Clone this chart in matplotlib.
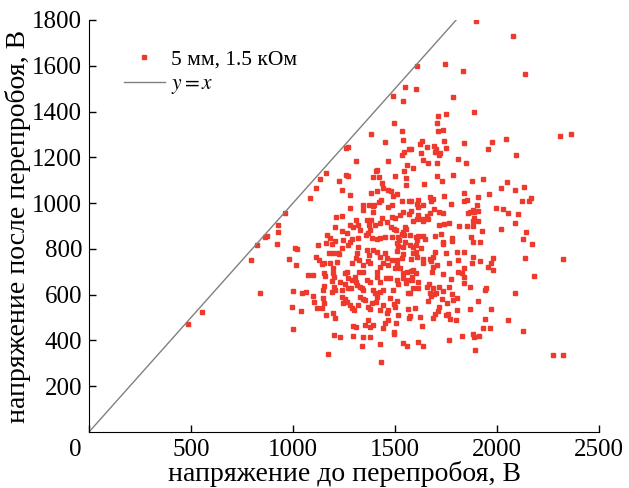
import numpy as np
import matplotlib
matplotlib.use("Agg")
import matplotlib.pyplot as plt
import matplotlib.transforms as mtransforms

# Values (volts)
before_v = [
    926, 926, 921, 872, 862, 823, 794, 838, 554, 485,
    1382, 1450, 1259, 1269, 1308, 1465, 1161, 1132, 1112, 1083,
    1259, 1269, 1225, 1240, 1279, 1279, 1406, 1411, 1392, 1421,
    1436, 1441, 1465, 1382, 1411, 1431, 1421, 1343, 1372, 1397,
    1392, 1465,
    1896, 2078, 1607, 1744, 1833, 2136, 1548, 1602, 1490, 1784,
    1539, 1710, 1749, 1886, 1494, 1705, 1534, 1710, 1735, 1539,
    1740, 1632, 1622, 1656, 1691, 1700, 1749, 1838, 1975, 1955,
    1568, 1578, 1544, 1534, 1627, 1695, 1720, 1715, 1637, 1661,
    1705, 1808, 1847, 1558, 1588, 1544, 1499, 1553, 1705, 1730,
    1784, 1877, 1931, 1553, 1642, 1480, 1490, 1509, 1740, 1838,
    1852, 1838, 1906, 1960, 1534, 1568, 1578, 1612, 1671, 1686,
    1676, 1637, 1607, 1612, 1691, 1774, 1901, 1882, 1994, 1485,
    2308, 2362, 2043, 2092, 2048, 2019, 2087, 2132, 2166, 2122,
    2156, 2029,
    2053, 2102, 2087, 2019, 2141, 2127, 2171, 2136, 2323, 2181,
    2087, 2053, 2127, 2274, 2323,
    1485, 1499, 1524, 1539, 1568, 1578, 1612, 1607, 1588, 1632,
    1637, 1656, 1661, 1671, 1715, 1735, 1857, 1867, 1886, 1906,
    1886, 1906, 1882,
    1480, 1494, 1504, 1548, 1553, 1534, 1539, 1544, 1573, 1485,
    1514, 1519, 1509, 1548, 1602, 1612, 1637, 1646, 1607, 1695,
    1725, 1740, 1764, 1715, 1779, 1779, 1735, 1735, 1813, 1852,
    1882, 1926, 1872, 1882, 1916, 1573, 1588, 1602, 1627, 1539,
    1514, 1509, 1539,
    1588, 1602, 1607, 1578, 1485, 1509, 1534, 1637, 1637, 1695,
    1686, 1671, 1676, 1749, 1764, 1803, 1808, 1838, 1705, 1686,
    1681, 1735, 1509, 1499, 1524, 1539, 1558, 1578, 1588, 1602,
    1475, 1509, 1539, 1563, 1583, 1612, 1583, 1774,
    1828, 1838, 1838, 1838, 1877, 1882, 1916, 1955, 1980, 1970,
    1980, 1808,
    1490, 1514, 1553, 1563, 1573, 1588, 1612, 1656, 1666, 1686,
    1715, 1735, 1671, 1691, 1700, 1676, 1764, 1779, 1803, 1784,
    1754, 1867, 1940, 1945, 1906,
    1475, 1509, 1499, 1494, 1563, 1597, 1661, 1715, 1710, 1730,
    1803, 1759, 1695, 1686, 1867, 1970, 1573, 1568, 1514, 1622,
    1632, 1749, 1769, 1798, 1940, 1931, 1965,
    1504, 1494, 1494, 1828, 1882, 1886, 1911, 1764, 1539, 1558,
    1612, 1637, 1891,
    960, 1210, 1240, 1279, 1294, 1308, 1318, 1328, 1343, 1362,
    1392, 1372, 1382, 1401, 1426, 1436, 1460,
    1205, 1240, 1264, 1166, 1181, 1205, 1161, 1191,
    1245, 1279, 1289, 1269, 1318, 1357, 1367, 1377, 1387, 1411,
    1426, 1450,
    1122, 1009, 1019, 980, 1014,
    1112, 1127, 1142, 1151, 1176, 1196, 1220, 1240, 1225, 1215,
    1181, 1196,
    1318, 1313, 1308, 1323, 1289, 1343, 1362, 1372, 1367, 1377,
    1392, 1411, 1426, 1450, 1460, 1441, 1426, 1465, 1411,
    1073, 1098, 1151, 1156, 1196, 1200, 1191, 1230, 1254, 1264,
    1269, 1289, 1303, 1308, 1323, 1343, 1362, 1377, 1411, 1426,
    1455,
    1151, 1147, 1200, 1191, 1205, 1240, 1254, 1269, 1284, 1313,
    1328, 1338, 1343, 1392, 1401, 1426, 1441,
    1000, 1044, 1063, 995, 1039,
    1098, 1103, 1147, 1151, 1117, 1142, 1196, 1205, 1161,
    1240, 1254, 1264, 1245, 1279, 1289, 1298, 1318, 1328, 1343,
    1352, 1367, 1377, 1387, 1411, 1406, 1426, 1441, 1460, 1465,
    1367, 1352, 1377, 1392, 1450, 1441, 1465,
    1294, 1308, 1294, 1343, 1377, 1200, 1230, 1426, 1338, 1171,
    1000, 1431,
]

after_v = [
    905, 874, 822, 857, 852, 817, 752, 607, 524, 472,
    1302, 1267, 1241, 1245, 1184, 1184, 1132, 1106, 1066, 1023,
    1123, 1119, 1097, 1058, 1036, 979, 1141, 1145, 1114, 1114,
    1088, 1066, 1058, 1044, 1053, 1014, 1005, 992, 992, 992,
    988, 983,
    1796, 1731, 1600, 1608, 1578, 1565, 1508, 1499, 1468, 1464,
    1446, 1381, 1390, 1398, 1350, 1350, 1315, 1315, 1320, 1276,
    1272, 1272, 1259, 1246, 1250, 1237, 1241, 1263, 1267, 1237,
    1237, 1237, 1224, 1210, 1219, 1224, 1219, 1210, 1189, 1176,
    1176, 1193, 1176, 1167, 1154, 1141, 1119, 1110, 1119, 1097,
    1123, 1097, 1106, 1079, 1084, 1053, 1031, 1040, 1031, 1044,
    1014, 1009, 1027, 1040, 1009, 1009, 1009, 1014, 1027, 1018,
    1009, 992, 996, 983, 975, 996, 992, 970, 979, 992,
    1294, 1302, 1280, 1210, 1093, 1066, 1058, 1071, 1023, 1009,
    1009, 975,
    957, 953, 913, 887, 874, 843, 822, 760, 756, 682,
    607, 489, 441, 336, 336,
    940, 935, 948, 961, 953, 966, 948, 931, 922, 931,
    922, 944, 931, 957, 961, 957, 957, 961, 961, 966,
    935, 922, 922,
    896, 887, 883, 896, 887, 865, 874, 861, 861, 852,
    852, 839, 826, 830, 852, 857, 857, 843, 839, 857,
    865, 909, 913, 905, 848, 835, 830, 822, 900, 900,
    900, 878, 852, 830, 830, 817, 808, 817, 804, 808,
    813, 791, 778,
    782, 787, 765, 756, 752, 752, 760, 756, 739, 787,
    765, 756, 747, 782, 739, 787, 752, 787, 730, 721,
    699, 690, 730, 717, 717, 695, 699, 704, 708, 695,
    673, 664, 673, 664, 677, 656, 664, 669,
    695, 717, 677, 651, 739, 765, 747, 721, 708, 739,
    760, 699,
    621, 647, 651, 607, 607, 629, 629, 634, 647, 629,
    634, 616, 607, 603, 607, 594, 634, 603, 586, 577,
    564, 634, 621, 629, 573,
    586, 573, 546, 559, 538, 542, 573, 546, 529, 581,
    533, 516, 516, 498, 538, 538, 507, 498, 511, 503,
    463, 511, 494, 489, 494, 454, 454,
    476, 437, 428, 420, 428, 415, 420, 402, 389, 376,
    393, 376, 358,
    957, 940, 944, 905, 896, 926, 905, 883, 970, 926,
    961, 905, 926, 905, 913, 935, 918,
    896, 878, 870, 861, 848, 835, 826, 822,
    839, 830, 843, 817, 848, 861, 870, 883, 848, 843,
    848, 852,
    817, 804, 800, 756, 730,
    765, 752, 734, 739, 782, 782, 782, 804, 778, 743,
    739, 717,
    808, 782, 760, 752, 739, 730, 795, 773, 747, 739,
    795, 787, 765, 782, 760, 739, 721, 730, 699,
    686, 686, 695, 682, 695, 677, 660, 656, 695, 699,
    673, 664, 677, 656, 699, 699, 664, 656, 677, 656,
    673,
    638, 621, 634, 612, 621, 621, 647, 629, 629, 642,
    634, 629, 621, 621, 607, 612, 621,
    616, 607, 612, 546, 529,
    594, 568, 586, 564, 542, 542, 520, 498, 511,
    590, 581, 568, 564, 555, 542, 533, 555, 590, 581,
    577, 546, 538, 564, 590, 568, 533, 555, 520, 533,
    489, 468, 459, 468, 476, 454, 489,
    463, 459, 420, 415, 415, 424, 415, 385, 376, 341,
    450, 306,
]

x_ticks = [0, 500, 1000, 1500, 2000, 2500]
y_ticks = [200, 400, 600, 800, 1000, 1200, 1400, 1600, 1800]
line_ends = [0, 1800]

plt.rcParams['font.family'] = ['Liberation Serif', 'DejaVu Serif']
plt.rcParams['mathtext.fontset'] = 'stix'

fig = plt.figure(figsize=(6.29, 4.88), dpi=100)
ax = fig.add_axes([0.1415, 0.1148, 0.8108, 0.8443])

ax.plot(before_v, after_v, linestyle="none", marker="s", markersize=2.6,
        color="#ee3a2c", label="5 мм, 1.5 кОм")
ax.plot(line_ends, line_ends, color="#808080", linewidth=1.0, label=r"$y = x$")

ax.set_xlim(0, 2500)
ax.set_ylim(0, 1800)
ax.set_xticks(x_ticks)
ax.set_yticks(y_ticks)
ax.spines["top"].set_visible(False)
ax.spines["right"].set_visible(False)
ax.tick_params(direction="in", length=5, width=1, labelsize=18, pad=5)

# the "0" under the corner sits a little to the left in the original
zero_lbl = ax.get_xticklabels()[0]
zero_lbl.set_transform(zero_lbl.get_transform() +
                       mtransforms.ScaledTranslation(-0.14, 0, fig.dpi_scale_trans))

ax.set_xlabel("напряжение до перепробоя, В", fontsize=20, labelpad=0)
ax.set_ylabel("напряжение после перепробоя, В", fontsize=20, labelpad=1)

ax.legend(loc="upper left", bbox_to_anchor=(0.03, 0.975), frameon=False,
          fontsize=15.5, handlelength=1.9, handletextpad=0.3, numpoints=1,
          labelspacing=0.2)

fig.savefig("out.png", dpi=100)
